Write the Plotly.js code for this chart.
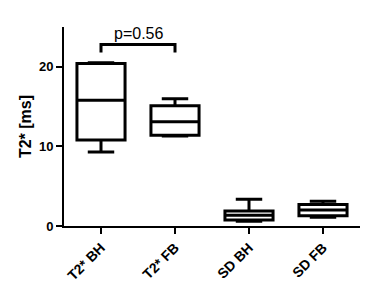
<!DOCTYPE html>
<html><head><meta charset="utf-8">
<script src="https://cdn.plot.ly/plotly-3.0.1.min.js"></script>
<style>html,body{margin:0;padding:0;background:#fff}#c{width:370px;height:292px}</style>
</head><body><div id="c"></div>
<script>
const categories = ["T2* BH", "T2* FB", "SD BH", "SD FB"];
const mins    = [9.3, 11.3, 0.6, 1.1];
const q1s     = [10.8, 11.4, 0.75, 1.3];
const medians = [15.8, 13.1, 1.35, 2.0];
const q3s     = [20.4, 15.1, 1.9, 2.7];
const maxs    = [20.5, 16.0, 3.35, 3.1];
const yTicks  = [0, 10, 20];
const pText   = "p=0.56";
const bracketX = [0, 1];
const bracketY = [21.8, 22.8];

const F = "Arial, 'Liberation Sans', sans-serif";
const trace = {
  type: "box",
  x: categories,
  q1: q1s, median: medians, q3: q3s,
  lowerfence: mins, upperfence: maxs,
  width: 0.65,
  whiskerwidth: 0.55,
  fillcolor: "#ffffff",
  line: {color: "#000000", width: 3},
  boxpoints: false,
  hoverinfo: "skip",
  showlegend: false
};
const bracket = {
  type: "scatter", mode: "lines",
  x: [categories[bracketX[0]], categories[bracketX[0]], categories[bracketX[1]], categories[bracketX[1]]],
  y: [bracketY[0], bracketY[1], bracketY[1], bracketY[0]],
  line: {color: "#000", width: 3},
  hoverinfo: "skip", showlegend: false
};
const layout = {
  width: 370, height: 292,
  margin: {l: 64, r: 10, t: 27, b: 66},
  paper_bgcolor: "#fff", plot_bgcolor: "#fff",
  font: {family: F, color: "#000"},
  xaxis: {
    type: "category", categoryarray: categories, range: [-0.5, 3.5],
    showline: true, linecolor: "#000", linewidth: 2,
    ticks: "outside", ticklen: 6, tickwidth: 2, tickcolor: "#000",
    tickangle: -45, tickfont: {family: F, size: 14, color: "#000", weight: "bold"},
    showgrid: false, zeroline: false, fixedrange: true
  },
  yaxis: {
    range: [0, 25], tickvals: yTicks, ticktext: yTicks.map(String),
    showline: true, linecolor: "#000", linewidth: 2,
    ticks: "outside", ticklen: 6, tickwidth: 2, tickcolor: "#000",
    tickfont: {family: F, size: 13, color: "#000", weight: "bold"},
    showgrid: false, zeroline: false,
    title: {text: "T2* [ms]", font: {family: F, size: 16, color: "#000", weight: "bold"}, standoff: 3}
  },
  annotations: [{
    x: 0.5, y: bracketY[1], xref: "x", yref: "y", text: pText,
    showarrow: false, yanchor: "bottom", yshift: 1,
    font: {family: F, size: 16, color: "#000"}
  }]
};
Plotly.newPlot("c", [trace, bracket], layout, {staticPlot: true, displayModeBar: false});
</script></body></html>
